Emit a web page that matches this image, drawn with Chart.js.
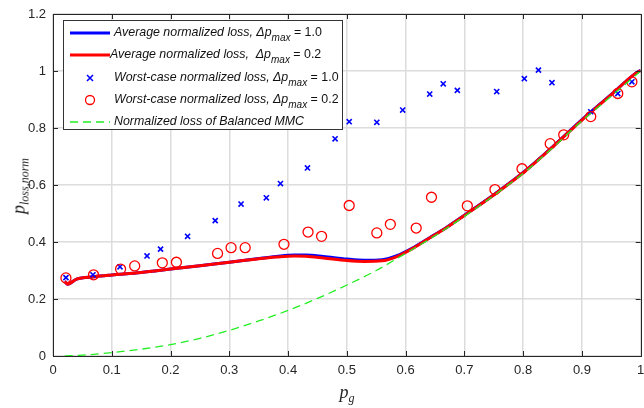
<!DOCTYPE html>
<html>
<head>
<meta charset="utf-8">
<script src="https://cdn.jsdelivr.net/npm/chart.js@4"></script>
<style>
  body { margin: 0; background: #fff; overflow: hidden; }
  #wrap { position: relative; width: 644px; height: 408px; overflow: hidden; }
  #legendBox {
    position: absolute; left: 63px; top: 20px; width: 280px; height: 110px;
    box-sizing: border-box; background: #fff; border: 1px solid #333;
    font-family: "Liberation Sans", Arial, sans-serif; font-size: 12.4px; color: #111;
  }
  .row { position: absolute; left: 0; height: 20px; width: 100%; }
  .row .txt { position: absolute; left: 50px; top: 2px; white-space: nowrap; font-style: italic; }
  .row .txt sub { font-size: 10px; vertical-align: -5px; line-height: 0; }
  .row .txt .up { font-style: normal; }
  .axtitle { position: absolute; font-family: "Liberation Serif", "Times New Roman", serif; font-style: italic; color: #262626; white-space: nowrap; }
  .axtitle sub { font-size: 12px; vertical-align: -4px; line-height: 0; }
</style>
</head>
<body>
<div id="wrap">
  <!-- canvas a bit wider than the window so the x=1 edge sits where the reference has it -->
  <canvas id="chart" width="647" height="408"></canvas>
  <div id="legendBox"></div>
  <div class="axtitle" id="ytitle" style="font-size:18px; left:19px; top:186px; transform: translate(-50%,-50%) rotate(-90deg);">p<sub>loss,norm</sub></div>
  <div class="axtitle" id="xtitle" style="font-size:18px; left:347px; top:392px; transform: translate(-50%,-50%);">p<sub>g</sub></div>
</div>
<script>
// Average normalized loss, dp_max = 1.0 (blue line)
const avgX = [0.02, 0.025, 0.04, 0.07, 0.1, 0.15, 0.2, 0.25, 0.3, 0.35, 0.38, 0.41, 0.43, 0.46, 0.5, 0.53, 0.56, 0.585, 0.61, 0.64, 0.67, 0.7, 0.75, 0.8, 0.85, 0.9, 0.95, 0.99, 1.0];
const avgBlue = [0.262, 0.252, 0.27, 0.278, 0.284, 0.293, 0.305, 0.317, 0.329, 0.342, 0.349, 0.354, 0.354, 0.349, 0.340, 0.336, 0.338, 0.352, 0.377, 0.414, 0.452, 0.494, 0.566, 0.644, 0.734, 0.829, 0.918, 0.99, 1.003];
// Average normalized loss, dp_max = 0.2 (red line)
const avgRed = [0.262, 0.252, 0.27, 0.278, 0.284, 0.293, 0.305, 0.317, 0.329, 0.341, 0.347, 0.351, 0.350, 0.344, 0.335, 0.332, 0.334, 0.349, 0.375, 0.413, 0.451, 0.493, 0.565, 0.643, 0.733, 0.828, 0.917, 0.99, 1.002];

// Worst-case normalized loss, dp_max = 1.0 (blue x)
const wcBlueX = [0.022, 0.068, 0.114, 0.160, 0.183, 0.229, 0.276, 0.320, 0.363, 0.387, 0.433, 0.480, 0.504, 0.551, 0.595, 0.641, 0.664, 0.688, 0.755, 0.802, 0.826, 0.849, 0.915, 0.961, 0.985];
const wcBlueY = [0.275, 0.285, 0.313, 0.351, 0.375, 0.420, 0.475, 0.533, 0.555, 0.605, 0.660, 0.762, 0.822, 0.820, 0.863, 0.919, 0.955, 0.932, 0.928, 0.973, 1.003, 0.959, 0.857, 0.921, 0.962];

// Worst-case normalized loss, dp_max = 0.2 (red o)
const wcRedX = [0.022, 0.069, 0.115, 0.139, 0.186, 0.210, 0.280, 0.303, 0.327, 0.393, 0.434, 0.457, 0.504, 0.551, 0.574, 0.618, 0.644, 0.705, 0.752, 0.798, 0.846, 0.869, 0.915, 0.961, 0.985];
const wcRedY = [0.274, 0.285, 0.305, 0.316, 0.327, 0.329, 0.360, 0.380, 0.380, 0.392, 0.435, 0.420, 0.528, 0.432, 0.462, 0.449, 0.557, 0.527, 0.584, 0.657, 0.745, 0.776, 0.840, 0.921, 0.962];

// Normalized loss of Balanced MMC (green dashed)
const balX = [0.02, 0.05, 0.1, 0.15, 0.2, 0.25, 0.3, 0.35, 0.4, 0.45, 0.5, 0.55, 0.6, 0.65, 0.7, 0.75, 0.8, 0.85, 0.9, 0.95, 1.0];
const balY = [0.0, 0.003, 0.012, 0.024, 0.040, 0.062, 0.090, 0.123, 0.160, 0.202, 0.249, 0.300, 0.360, 0.422, 0.490, 0.563, 0.641, 0.730, 0.825, 0.912, 1.0];

const legendHtml = [
  'Average normalized loss, &Delta;p<sub>max</sub><span class="up"> = 1.0</span>',
  'Average normalized loss, &nbsp;&Delta;p<sub>max</sub><span class="up"> = 0.2</span>',
  'Worst-case normalized loss, &Delta;p<sub>max</sub><span class="up"> = 1.0</span>',
  'Worst-case normalized loss, &Delta;p<sub>max</sub><span class="up"> = 0.2</span>',
  'Normalized loss of Balanced MMC'
];

const pts = (xs, ys) => xs.map((x, i) => ({ x: x, y: ys[i] }));

const datasets = [
  { label: 'avg1', data: pts(avgX, avgBlue), borderColor: '#0000ff', borderWidth: 3, pointRadius: 0, showLine: true, cubicInterpolationMode: 'monotone', order: 4 },
  { label: 'avg02', data: pts(avgX, avgRed), borderColor: '#ff0000', borderWidth: 3, pointRadius: 0, showLine: true, cubicInterpolationMode: 'monotone', order: 3 },
  { label: 'wc1', data: pts(wcBlueX, wcBlueY), borderColor: '#0000ff', backgroundColor: '#0000ff', pointStyle: 'crossRot', pointRadius: 3.6, borderWidth: 1.6, showLine: false, order: 2 },
  { label: 'wc02', data: pts(wcRedX, wcRedY), borderColor: '#ff0000', backgroundColor: 'rgba(0,0,0,0)', pointStyle: 'circle', pointRadius: 5, borderWidth: 1.3, showLine: false, order: 1 },
  { label: 'bal', data: pts(balX, balY), borderColor: '#22ee22', borderWidth: 1.3, borderDash: [8, 5], pointRadius: 0, showLine: true, cubicInterpolationMode: 'monotone', order: 0 }
];

// MATLAB-style box with inward ticks on all four sides
const boxPlugin = {
  id: 'box',
  afterDraw(chart) {
    const { ctx, chartArea: a, scales: { x, y } } = chart;
    ctx.save();
    ctx.strokeStyle = '#262626';
    ctx.lineWidth = 1;
    ctx.beginPath();
    x.ticks.forEach(t => {
      const px = Math.round(x.getPixelForValue(t.value)) + 0.5;
      ctx.moveTo(px, a.bottom); ctx.lineTo(px, a.bottom - 5);
      ctx.moveTo(px, a.top); ctx.lineTo(px, a.top + 5);
    });
    y.ticks.forEach(t => {
      const py = Math.round(y.getPixelForValue(t.value)) + 0.5;
      ctx.moveTo(a.left, py); ctx.lineTo(a.left + 5, py);
      ctx.moveTo(a.right, py); ctx.lineTo(a.right - 5, py);
    });
    ctx.stroke();
    ctx.strokeRect(Math.round(a.left) + 0.5, Math.round(a.top) + 0.5, Math.round(a.right - a.left), Math.round(a.bottom - a.top));
    ctx.restore();
  }
};

const fmt = v => String(+v.toFixed(1));

const chart = new Chart(document.getElementById('chart').getContext('2d'), {
  type: 'scatter',
  data: { datasets: datasets },
  options: {
    responsive: false,
    animation: false,
    layout: { padding: { top: 14, right: 3, left: 0, bottom: 0 } },
    plugins: { legend: { display: false }, tooltip: { enabled: false } },
    scales: {
      x: {
        type: 'linear', min: 0, max: 1,
        ticks: { stepSize: 0.1, callback: fmt, color: '#262626', padding: 7, maxRotation: 0,
                 font: { family: '"Liberation Sans", Arial, sans-serif', size: 13 } },
        grid: { color: '#dcdcdc', lineWidth: 1.5, drawTicks: false },
        border: { display: false },
        afterFit: s => { s.height = 52; s.paddingLeft = 0; s.paddingRight = 0; }
      },
      y: {
        min: 0, max: 1.2,
        ticks: { stepSize: 0.2, callback: fmt, color: '#262626', padding: 7,
                 font: { family: '"Liberation Sans", Arial, sans-serif', size: 13 } },
        grid: { color: '#dcdcdc', lineWidth: 1.5, drawTicks: false },
        border: { display: false },
        afterFit: s => { s.width = 53; s.paddingTop = 0; s.paddingBottom = 0; }
      }
    }
  },
  plugins: [boxPlugin]
});

// HTML legend built from the chart's datasets
const box = document.getElementById('legendBox');
const rowTops = [2, 24, 47, 69, 91];
chart.data.datasets.forEach((ds, i) => {
  const row = document.createElement('div');
  row.className = 'row';
  row.style.top = rowTops[i] + 'px';
  const c = document.createElement('canvas');
  c.width = 48; c.height = 20;
  c.style.position = 'absolute'; c.style.left = '2px'; c.style.top = '0px';
  const g = c.getContext('2d');
  g.strokeStyle = ds.borderColor;
  if (ds.showLine) {
    g.lineWidth = ds.borderWidth;
    if (ds.borderDash) g.setLineDash(ds.borderDash);
    g.beginPath(); g.moveTo(4, 10); g.lineTo(44, 10); g.stroke();
  } else if (ds.pointStyle === 'crossRot') {
    g.lineWidth = 1.6;
    g.beginPath(); g.moveTo(21, 7); g.lineTo(27, 13); g.moveTo(27, 7); g.lineTo(21, 13); g.stroke();
  } else {
    g.lineWidth = 1.3;
    g.beginPath(); g.arc(24, 10, 4.5, 0, Math.PI * 2); g.stroke();
  }
  row.appendChild(c);
  const t = document.createElement('span');
  t.className = 'txt';
  t.innerHTML = legendHtml[i];
  if (i === 1) t.style.left = '46px';
  row.appendChild(t);
  box.appendChild(row);
});
</script>
</body>
</html>
